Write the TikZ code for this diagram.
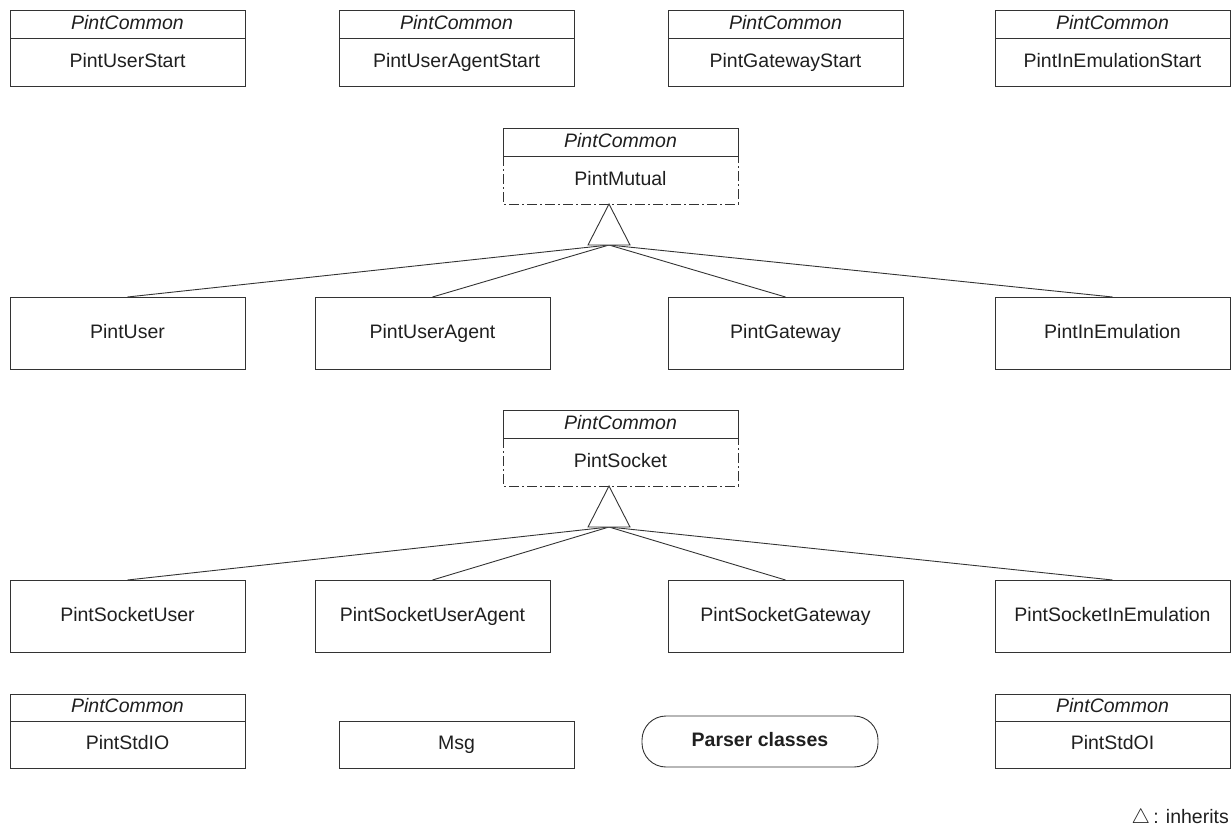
\documentclass[tikz,border=0pt]{standalone}
\usepackage{fontspec}
\setmainfont{Liberation Sans}
\begin{document}
\begin{tikzpicture}[x=1pt,y=-1pt,
  line/.style={draw=black!80, line width=0.9pt},
  txt/.style={text=black!88, font=\fontsize{19.5}{23}\selectfont},
  box/.style={line, txt, anchor=north west, minimum width=235pt, inner sep=0pt, outer sep=0pt,
    text height=14pt, text depth=4pt},
  body/.style={box, minimum height=48pt},
  tall/.style={box, minimum height=72pt},
  hdr/.style={box, anchor=south west, minimum height=28pt, font=\fontsize{19.5}{23}\selectfont\itshape},
  open/.style={box, draw=none, minimum height=48pt},
  dashdot/.style={line, dash pattern=on 10pt off 3pt on 2pt off 3pt},
  tri/.style={line, fill=white},
  pill/.style={line, txt, font=\fontsize{19.5}{23}\selectfont\bfseries, anchor=north west,
    minimum width=236pt, minimum height=51pt, rounded corners=24pt, inner sep=0pt, outer sep=0pt,
    text height=14pt, text depth=4pt}
]
\useasboundingbox (0,0) rectangle (1231,835);

% start classes
\node[body] (us)  at (10,38)  {PintUserStart};
\node[hdr]  (ush) at (us.north west) {PintCommon};
\node[body] (uas) at (339,38) {PintUserAgentStart};
\node[hdr]  (uash) at (uas.north west) {PintCommon};
\node[body] (gs)  at (668,38) {PintGatewayStart};
\node[hdr]  (gsh) at (gs.north west) {PintCommon};
\node[body] (ies) at (995,38) {PintInEmulationStart};
\node[hdr]  (iesh) at (ies.north west) {PintCommon};

% abstract base PintMutual
\node[open] (mut)  at (503,156) {PintMutual};
\node[hdr]  (muth) at (mut.north west) {PintCommon};
\draw[dashdot] (mut.north west) -- (mut.south west) -- (mut.south east) -- (mut.north east);
\coordinate (mapex) at (609,204);
\coordinate (mbase) at (609,245);

% mutual subclasses
\node[tall] (pu)  at (10,297)  {PintUser};
\node[tall] (pua) at (315,297) {PintUserAgent};
\node[tall] (pg)  at (668,297) {PintGateway};
\node[tall] (pie) at (995,297) {PintInEmulation};
\foreach \n in {pu,pua,pg,pie} \draw[line] (mbase) -- (\n.north);
\draw[tri] (mapex) -- ([xshift=-21pt]mbase) -- ([xshift=21pt]mbase) -- cycle;

% abstract base PintSocket
\node[open] (sock)  at (503,438) {PintSocket};
\node[hdr]  (sockh) at (sock.north west) {PintCommon};
\draw[dashdot] (sock.north west) -- (sock.south west) -- (sock.south east) -- (sock.north east);
\coordinate (sapex) at (609,486);
\coordinate (sbase) at (609,527);

% socket subclasses
\node[tall] (su)  at (10,580)  {PintSocketUser};
\node[tall] (sua) at (315,580) {PintSocketUserAgent};
\node[tall] (sg)  at (668,580) {PintSocketGateway};
\node[tall] (sie) at (995,580) {PintSocketInEmulation};
\foreach \n in {su,sua,sg,sie} \draw[line] (sbase) -- (\n.north);
\draw[tri] (sapex) -- ([xshift=-21pt]sbase) -- ([xshift=21pt]sbase) -- cycle;

% bottom row
\node[body, minimum height=47pt] (sio)  at (10,721) {PintStdIO};
\node[hdr, minimum height=27pt]  (sioh) at (sio.north west) {PintCommon};
\node[body, minimum height=47pt] (msg)  at (339,721) {Msg};
\node[pill] (parser) at (642,716) {Parser classes};
\node[body, minimum height=47pt] (soi)  at (995,721) {PintStdOI};
\node[hdr, minimum height=27pt]  (soih) at (soi.north west) {PintCommon};

% legend
\node[txt, anchor=east, inner sep=0pt] (legend) at (1229,818) {$\triangle$\,: inherits};
\end{tikzpicture}
\end{document}
